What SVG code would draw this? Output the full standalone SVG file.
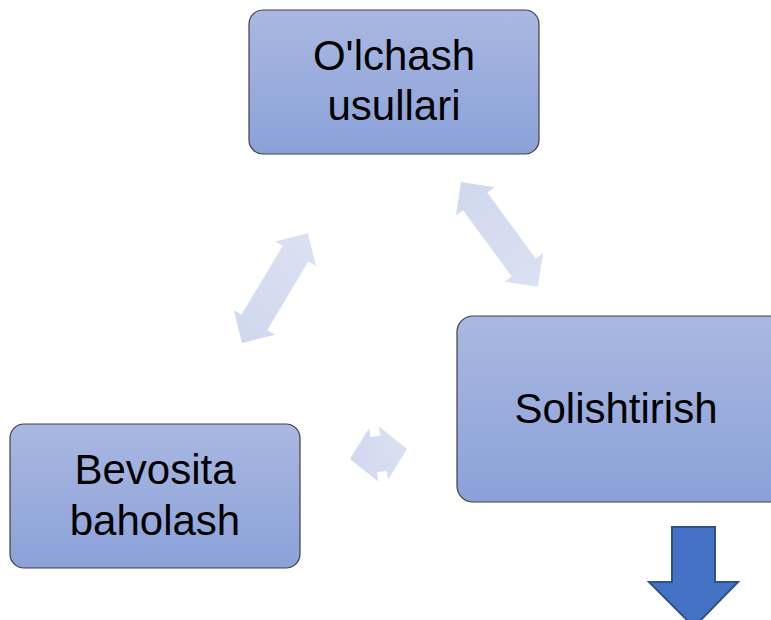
<svg xmlns="http://www.w3.org/2000/svg" width="771" height="620" viewBox="0 0 771 620">
<style>
.box{fill:url(#bg);stroke:#3f3f46;stroke-width:1.2}
.lbl{font-family:"Liberation Sans",Arial,sans-serif;font-size:42px;fill:#000;text-anchor:middle}
.dbl{fill:url(#ag)}
</style>
<defs>
<linearGradient id="bg" x1="0" y1="0" x2="0" y2="1">
<stop offset="0" stop-color="#aab8e1"/>
<stop offset="1" stop-color="#8aa1d8"/>
</linearGradient>
<linearGradient id="ag" x1="0" y1="0" x2="1" y2="0">
<stop offset="0" stop-color="#d0d8ee"/>
<stop offset="1" stop-color="#dbe1f2"/>
</linearGradient>
</defs>
<g id="connectors">
<polygon class="dbl" transform="translate(461,182) rotate(53.75)" points="0,0 24,-24 24,-15 106,-15 106,-24 130,0 106,24 106,15 24,15 24,24"/>
<polygon class="dbl" transform="translate(242,343) rotate(-59.04)" points="0,0 24,-24 24,-15 104,-15 104,-24 128,0 104,24 104,15 24,15 24,24"/>
<polygon class="dbl" transform="translate(350,459) rotate(-9.95)" points="0,0 24,-27 24,-18 34,-18 34,-27 58,0 34,27 34,18 24,18 24,27"/>
<polygon points="672,527 715,527 715,582 738,582 694,627 649,582 672,582" fill="#4472c4" stroke="#2f528f" stroke-width="2"/>
</g>
<g id="node-olchash">
<rect class="box" x="249" y="10" width="290" height="144" rx="14"/>
<text class="lbl" x="394" y="70">O'lchash</text>
<text class="lbl" x="394" y="120">usullari</text>
</g>
<g id="node-solishtirish">
<rect class="box" x="457" y="316" width="330" height="186" rx="16"/>
<text class="lbl" x="616" y="423">Solishtirish</text>
</g>
<g id="node-bevosita">
<rect class="box" x="10" y="424" width="290" height="144" rx="14"/>
<text class="lbl" x="155" y="484">Bevosita</text>
<text class="lbl" x="155" y="535">baholash</text>
</g>
</svg>
